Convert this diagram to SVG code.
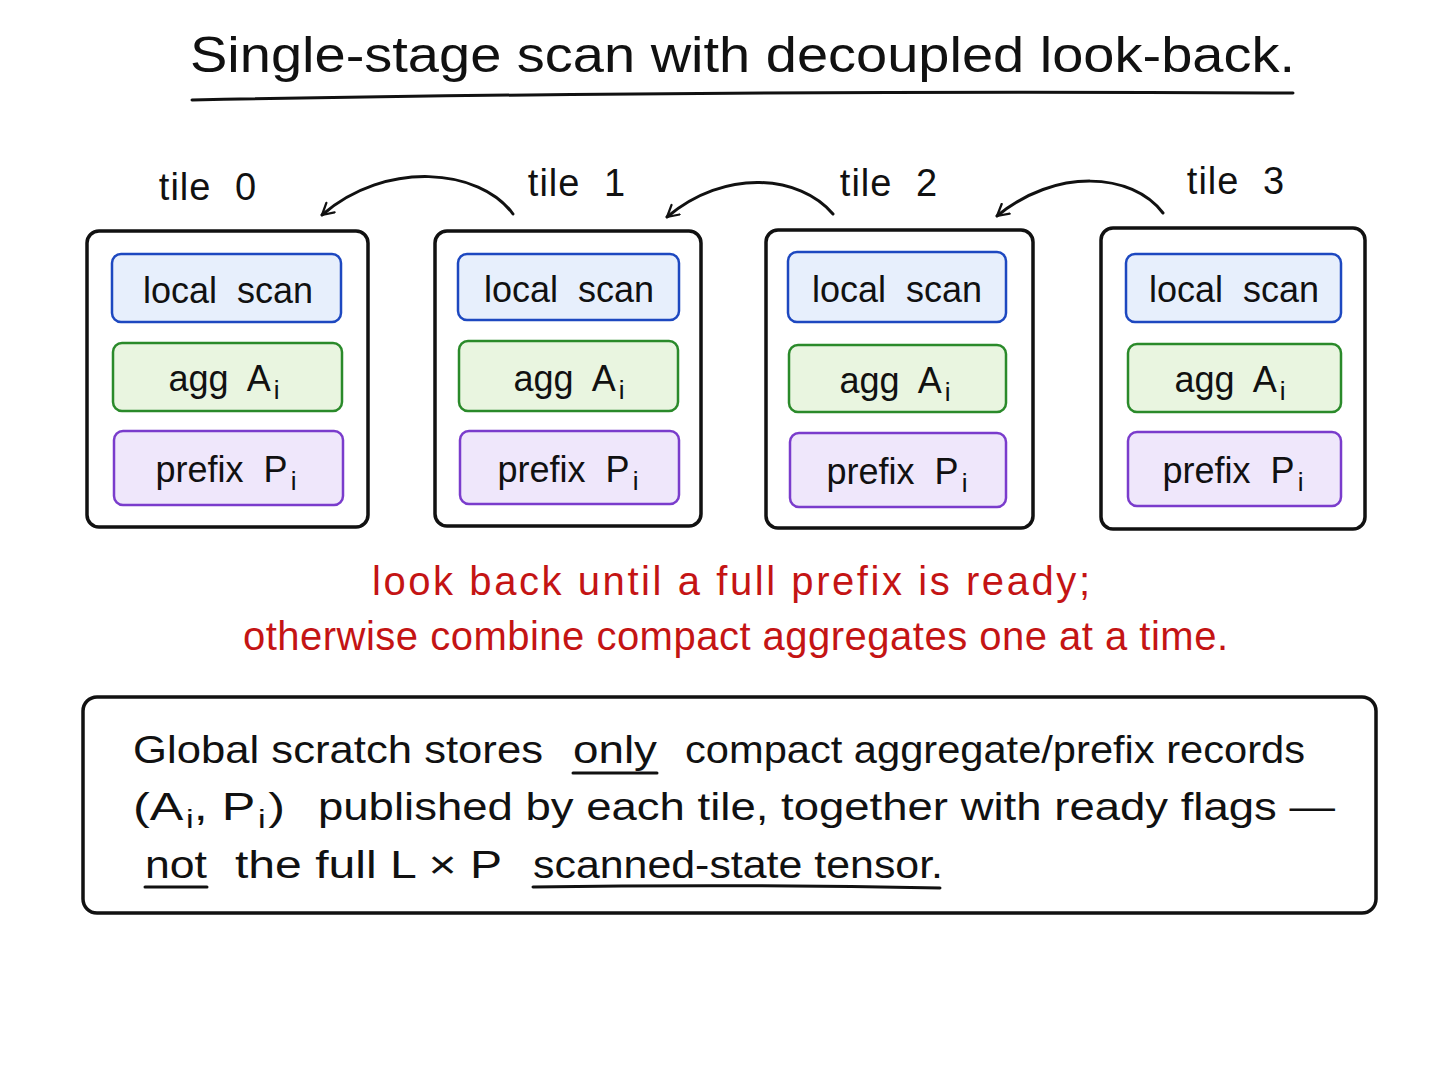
<svg xmlns="http://www.w3.org/2000/svg" width="1449" height="1085" viewBox="0 0 1449 1085">
<style>
text{font-family:"Liberation Sans","Open Sans",sans-serif;fill:#111}
.title{font-size:50px}
.tl{font-size:38px;text-anchor:middle;word-spacing:12px;letter-spacing:1px}
.in{font-size:36px;text-anchor:middle;word-spacing:10px}
.sub{font-size:26px}
.tile{fill:#fff;stroke:#111;stroke-width:3.5}
.ls{fill:#e7effc;stroke:#1d48c0;stroke-width:2.5}
.ag{fill:#e9f5e0;stroke:#2a8a2a;stroke-width:2.5}
.pf{fill:#efe7fb;stroke:#7a3ccc;stroke-width:2.5}
.red{font-size:40px;fill:#c41414}
.body{font-size:38px}
.ul{stroke:#111;stroke-width:3;fill:none;stroke-linecap:round}
.conn{fill:none;stroke:#111;stroke-width:3;stroke-linecap:round}
</style>
<defs>
<marker id="ah" viewBox="0 0 12 12" refX="10" refY="6" markerWidth="15" markerHeight="15" markerUnits="userSpaceOnUse" orient="auto">
<path d="M1,1 L10,6 L1,11" fill="none" stroke="#111" stroke-width="1.8" stroke-linecap="round" stroke-linejoin="round"/>
</marker>
</defs>
<rect width="1449" height="1085" fill="#fff"/>
<g id="title">
<text class="title" x="190" y="72" textLength="1105" lengthAdjust="spacingAndGlyphs">Single-stage scan with decoupled look-back.</text>
<path class="ul" d="M192,100 Q700,90 1293,93"/>
</g>
<g id="tile0">
<text class="tl" x="208" y="200">tile 0</text>
<rect class="tile" x="87" y="231" width="281" height="296" rx="12"/>
<rect class="ls" x="112" y="254" width="229" height="68" rx="9"/>
<text class="in" x="228" y="303">local scan</text>
<rect class="ag" x="113" y="343" width="229" height="68" rx="9"/>
<text class="in" x="224" y="391">agg A<tspan class="sub" dx="3" dy="8">i</tspan></text>
<rect class="pf" x="114" y="431" width="229" height="74" rx="9"/>
<text class="in" x="226" y="482">prefix P<tspan class="sub" dx="3" dy="8">i</tspan></text>
</g>
<g id="tile1">
<text class="tl" x="577" y="196">tile 1</text>
<rect class="tile" x="435" y="231" width="266" height="295" rx="12"/>
<rect class="ls" x="458" y="254" width="221" height="66" rx="9"/>
<text class="in" x="569" y="302">local scan</text>
<rect class="ag" x="459" y="341" width="219" height="70" rx="9"/>
<text class="in" x="569" y="391">agg A<tspan class="sub" dx="3" dy="8">i</tspan></text>
<rect class="pf" x="460" y="431" width="219" height="73" rx="9"/>
<text class="in" x="568" y="482">prefix P<tspan class="sub" dx="3" dy="8">i</tspan></text>
</g>
<g id="tile2">
<text class="tl" x="889" y="196">tile 2</text>
<rect class="tile" x="766" y="230" width="267" height="298" rx="12"/>
<rect class="ls" x="788" y="252" width="218" height="70" rx="9"/>
<text class="in" x="897" y="302">local scan</text>
<rect class="ag" x="789" y="345" width="217" height="67" rx="9"/>
<text class="in" x="895" y="393">agg A<tspan class="sub" dx="3" dy="8">i</tspan></text>
<rect class="pf" x="790" y="433" width="216" height="74" rx="9"/>
<text class="in" x="897" y="484">prefix P<tspan class="sub" dx="3" dy="8">i</tspan></text>
</g>
<g id="tile3">
<text class="tl" x="1236" y="194">tile 3</text>
<rect class="tile" x="1101" y="228" width="264" height="301" rx="12"/>
<rect class="ls" x="1126" y="254" width="215" height="68" rx="9"/>
<text class="in" x="1234" y="302">local scan</text>
<rect class="ag" x="1128" y="344" width="213" height="68" rx="9"/>
<text class="in" x="1230" y="392">agg A<tspan class="sub" dx="3" dy="8">i</tspan></text>
<rect class="pf" x="1128" y="432" width="213" height="74" rx="9"/>
<text class="in" x="1233" y="483">prefix P<tspan class="sub" dx="3" dy="8">i</tspan></text>
</g>
<g id="connectors">
<path class="conn" marker-end="url(#ah)" d="M513,214 C480,168 385,160 322,215"/>
<path class="conn" marker-end="url(#ah)" d="M833,214 C800,175 725,168 667,217"/>
<path class="conn" marker-end="url(#ah)" d="M1163,213 C1132,172 1055,168 997,216"/>
</g>
<g id="note">
<text class="red" x="372" y="595" textLength="718" lengthAdjust="spacing">look back until a full prefix is ready;</text>
<text class="red" x="243" y="650" textLength="985" lengthAdjust="spacing">otherwise combine compact aggregates one at a time.</text>
</g>
<g id="scratch">
<rect x="83" y="697" width="1293" height="216" rx="14" fill="#fff" stroke="#111" stroke-width="3.5"/>
<text class="body" x="133" y="763" textLength="410" lengthAdjust="spacingAndGlyphs">Global scratch stores</text>
<text class="body" x="573" y="763" textLength="84" lengthAdjust="spacingAndGlyphs">only</text>
<text class="body" x="685" y="763" textLength="620" lengthAdjust="spacingAndGlyphs">compact aggregate/prefix records</text>
<path class="ul" d="M573,773 L657,773"/>
<text class="body" x="133" y="820" textLength="152" lengthAdjust="spacingAndGlyphs">(A<tspan class="sub" dx="2" dy="8">i</tspan><tspan dy="-8">, P</tspan><tspan class="sub" dx="2" dy="8">i</tspan><tspan dx="2" dy="-8">)</tspan></text>
<text class="body" x="318" y="820" textLength="1017" lengthAdjust="spacingAndGlyphs">published by each tile, together with ready flags —</text>
<text class="body" x="145" y="878" textLength="62" lengthAdjust="spacingAndGlyphs">not</text>
<path class="ul" d="M145,887 L207,887"/>
<text class="body" x="235" y="878" textLength="267" lengthAdjust="spacingAndGlyphs">the full L × P</text>
<text class="body" x="533" y="878" textLength="410" lengthAdjust="spacingAndGlyphs">scanned-state tensor.</text>
<path class="ul" d="M533,887 Q740,884 940,888"/>
</g>
</svg>
